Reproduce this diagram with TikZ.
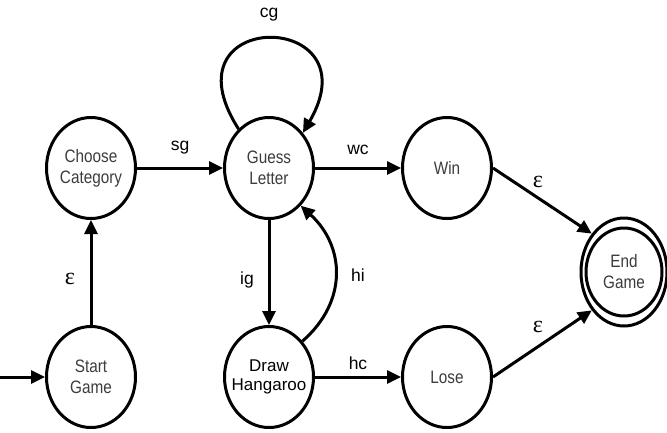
\documentclass[tikz,border=0pt]{standalone}
\usepackage{fontspec}
\setmainfont{Liberation Sans}
\newfontfamily\condfont[FakeStretch=0.85]{Liberation Sans}
\newfontfamily\epsfont{Liberation Serif}
\usetikzlibrary{shapes.geometric,arrows.meta}
\definecolor{nodetext}{RGB}{60,60,60}
\begin{document}
\begin{tikzpicture}[x=1pt,y=-1pt,
  state/.style={ellipse,draw,line width=3pt,minimum width=89pt,minimum height=101pt,
    inner sep=-12pt,align=center,font=\condfont\fontsize{18}{21}\selectfont,text=nodetext},
  edge/.style={line width=3pt,-{Triangle[length=14pt,width=13pt]}},
  lbl/.style={font=\fontsize{17.5}{20}\selectfont,text=black,inner sep=0pt},
  epslbl/.style={font=\epsfont\fontsize{24}{24}\selectfont,text=black,inner sep=0pt}]
\useasboundingbox (0,0) rectangle (667,432);
\node[state] (cc) at (91,168) {Choose\\Category};
\node[state] (gl) at (269,168) {Guess\\Letter};
\node[state] (win) at (447,168) {Win};
\node[state] (ss) at (91,377) {Start\\Game};
\node[state,font=\fontsize{17}{19}\selectfont,text=black] (dh) at (269,377) {Draw\\Hangaroo};
\node[state] (lose) at (447,377) {Lose};
\node[state,minimum width=86pt,minimum height=108pt] (eg) at (624,272) {End\\Game};
\draw[line width=3pt] (eg.center) ellipse [x radius=38pt, y radius=44pt];
\coordinate (init) at (0,377);
\draw[edge] (init) -- (ss);
\draw[edge] (ss) -- (cc);
\draw[edge] (cc) -- (gl);
\draw[edge] (gl) -- (win);
\draw[edge] (gl) -- (dh);
\draw[edge] (dh) -- (lose);
\draw[edge] (win.east) -- (eg.130);
\draw[edge] (lose.east) -- (eg.230);
\draw[edge] (gl.128) .. controls +(-78,-122) and +(72,-124) .. (gl.46);
\draw[edge] (dh.47) .. controls +(46,-40) and +(44,40) .. (gl.-50);
\node[epslbl] (l1) at (70,279) {ε};
\node[lbl] (l2) at (180,148) {sg};
\node[lbl] (l3) at (269,15) {cg};
\node[lbl] (l4) at (358,150) {wc};
\node[lbl] (l5) at (247,280) {ig};
\node[lbl] (l6) at (358,275) {hi};
\node[lbl] (l7) at (358,363) {hc};
\node[epslbl] (l8) at (538,182) {ε};
\node[epslbl] (l9) at (538,327) {ε};
\end{tikzpicture}
\end{document}
